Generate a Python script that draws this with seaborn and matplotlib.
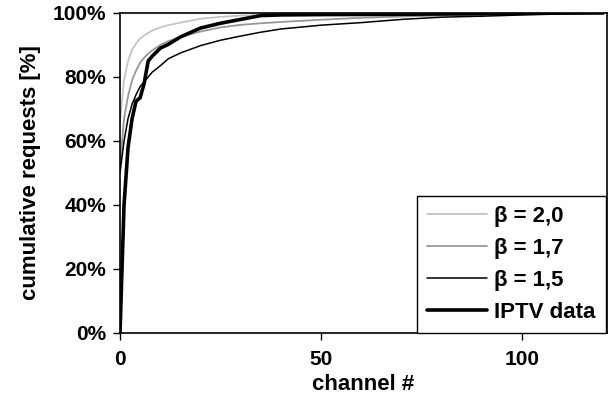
import numpy as np
import pandas as pd
import matplotlib
matplotlib.use("Agg")
import matplotlib.pyplot as plt
import seaborn as sns

# ---- data ----
channels = [0, 1, 2, 3, 4, 5, 6, 7, 8, 10, 12, 15, 20, 25, 30, 35, 40, 50, 60, 70, 80, 90, 100, 110, 120]

beta_20 = [66, 79, 85, 88.5, 90.5, 92, 93, 93.8, 94.5, 95.5, 96.2, 97.0, 98.2, 98.8, 99.2, 99.4,
           99.5, 99.7, 99.75, 99.8, 99.85, 99.9, 99.92, 99.95, 100]
beta_17 = [52, 67, 74, 79, 82, 84.5, 86, 87.3, 88.3, 90, 91.2, 92.5, 94.2, 95.5, 96.3, 96.8,
           97.2, 97.9, 98.5, 98.9, 99.2, 99.4, 99.65, 99.8, 100]
beta_15 = [50, 60, 67, 71.5, 74.5, 77, 78.5, 80, 81.5, 83.5, 85.7, 87.5, 89.8, 91.5, 92.8, 94.0,
           95.0, 96.2, 97.0, 98.0, 98.7, 99.0, 99.4, 99.7, 100]
iptv = [0, 40, 58, 67, 72.5, 73.5, 78, 85, 86.5, 89, 90.2, 92.5, 95.3, 96.8, 98.0, 99.2,
        99.4, 99.5, 99.55, 99.6, 99.7, 99.8, 99.9, 100, 100]

series_labels = ["β = 2,0", "β = 1,7", "β = 1,5", "IPTV data"]
y_ticks = [0, 20, 40, 60, 80, 100]
y_tick_labels = ["0%", "20%", "40%", "60%", "80%", "100%"]
x_ticks = [0, 50, 100]

# ---- styling ----
sns.set_style("white")
plt.rcParams["font.family"] = ["Liberation Sans", "DejaVu Sans"]
plt.rcParams["font.weight"] = "bold"
plt.rcParams["text.color"] = "black"
plt.rcParams["axes.labelcolor"] = "black"
plt.rcParams["xtick.color"] = "black"
plt.rcParams["ytick.color"] = "black"

fig = plt.figure(figsize=(6.14, 4.01), dpi=100)
ax = fig.add_axes([120 / 614, 1 - 333 / 401, 487 / 614, 320 / 401])

styles = [
    dict(color="#c4c4c4", lw=1.3),
    dict(color="#969696", lw=1.3),
    dict(color="#000000", lw=1.1),
    dict(color="#000000", lw=2.6),
]
all_series = [beta_20, beta_17, beta_15, iptv]
for vals, lab, st in zip(all_series, series_labels, styles):
    df = pd.DataFrame({"channel": channels, "cum": vals})
    sns.lineplot(data=df, x="channel", y="cum", ax=ax, label=lab,
                 color=st["color"], linewidth=st["lw"], solid_joinstyle="miter")

ax.set_xlim(0, 121)
ax.set_ylim(0, 100)
ax.set_yticks(y_ticks)
ax.set_yticklabels(y_tick_labels)
ax.set_xticks(x_ticks)
ax.tick_params(axis="both", direction="out", length=5, width=1, color="black",
               labelsize=15, labelcolor="black", bottom=True, left=True)
ax.tick_params(axis="x", pad=7)
ax.tick_params(axis="y", pad=5)
for t in ax.get_xticklabels() + ax.get_yticklabels():
    t.set_fontweight("bold")

for s in ax.spines.values():
    s.set_visible(True)
    s.set_color("black")
    s.set_linewidth(1.2)

ax.set_xlabel("channel #", fontsize=16, fontweight="bold", labelpad=4, color="black")
ax.set_ylabel("cumulative requests [%]", fontsize=16, fontweight="bold", labelpad=8, color="black")

leg = ax.legend(loc="lower right", bbox_to_anchor=(0.997, 0.0), borderaxespad=0,
                frameon=True, fancybox=False, shadow=False, fontsize=16,
                handlelength=2.7, handletextpad=0.3, labelspacing=0.5,
                borderpad=0.45)
leg.get_frame().set_edgecolor("black")
leg.get_frame().set_linewidth(1.0)
leg.get_frame().set_alpha(1)
for t in leg.get_texts():
    t.set_fontweight("bold")
    t.set_color("black")

fig.savefig("out.png", dpi=100)
